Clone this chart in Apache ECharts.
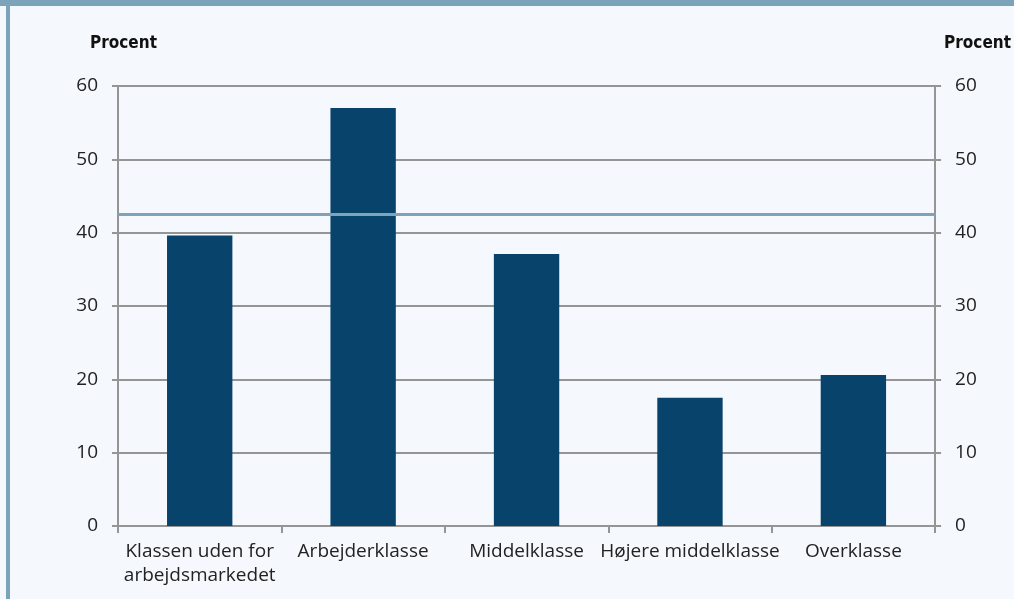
<!DOCTYPE html>
<html>
<head>
<meta charset="utf-8">
<script src="https://cdn.jsdelivr.net/npm/echarts@6/dist/echarts.min.js"></script>
<style>
html,body{margin:0;padding:0;background:#f5f9fd;}
#c{width:1014px;height:599px;}
</style>
</head>
<body>
<div id="c"></div>
<script>
const categories = ['Klassen uden for\narbejdsmarkedet', 'Arbejderklasse', 'Middelklasse', 'Højere middelklasse', 'Overklasse'];
const values = [39.6, 57.0, 37.1, 17.5, 20.6];
const averageLine = 42.5;
const yTicks = [0, 10, 20, 30, 40, 50, 60];
const axisName = 'Procent';

const chart = echarts.init(document.getElementById('c'), null, {renderer: 'canvas'});
const font = 'Open Sans';
const gridColor = '#959595';
const yAxisBase = {
  type: 'value',
  min: yTicks[0],
  max: yTicks[yTicks.length - 1],
  interval: yTicks[1] - yTicks[0],
  name: axisName,
  nameLocation: 'end',
  nameGap: 34,
  axisLine: {show: true, lineStyle: {color: gridColor, width: 2}},
  axisTick: {show: true, length: 6, lineStyle: {color: gridColor, width: 2}},
  axisLabel: {color: '#222', fontFamily: font, fontSize: 19, margin: 20},
  splitLine: {show: false}
};
chart.setOption({
  backgroundColor: '#f5f9fd',
  animation: false,
  graphic: [
    {type: 'rect', left: 0, top: 0, shape: {width: 1014, height: 6}, style: {fill: '#7ba3ba'}, z: 10},
    {type: 'rect', left: 6, top: 0, shape: {width: 4, height: 599}, style: {fill: '#7ba3ba'}, z: 10}
  ],
  grid: {left: 118, right: 78, top: 86, bottom: 73, containLabel: false},
  xAxis: {
    type: 'category',
    data: categories,
    axisLine: {show: true, lineStyle: {color: gridColor, width: 2}},
    axisTick: {show: true, alignWithLabel: false, length: 7, lineStyle: {color: gridColor, width: 2}},
    axisLabel: {color: '#222', fontFamily: font, fontSize: 19, margin: 14, lineHeight: 24, interval: 0}
  },
  yAxis: [
    Object.assign({}, yAxisBase, {
      position: 'left',
      splitLine: {show: true, lineStyle: {color: gridColor, width: 2}},
      nameTextStyle: {color: '#111', fontFamily: 'DejaVu Sans Condensed', fontWeight: 'bold', fontSize: 17, align: 'center', padding: [0, 0, 0, 11]}
    }),
    Object.assign({}, yAxisBase, {
      position: 'right',
      nameTextStyle: {color: '#111', fontFamily: 'DejaVu Sans Condensed', fontWeight: 'bold', fontSize: 17, align: 'left', padding: [0, 0, 0, 9]}
    })
  ],
  series: [{
    type: 'bar',
    data: values,
    barWidth: '40%',
    itemStyle: {color: '#08436b'},
    markLine: {
      silent: true,
      symbol: 'none',
      label: {show: false},
      lineStyle: {color: '#7ea3bb', width: 3, type: 'solid'},
      data: [{yAxis: averageLine}]
    },
    z: 2
  }]
});
</script>
</body>
</html>
